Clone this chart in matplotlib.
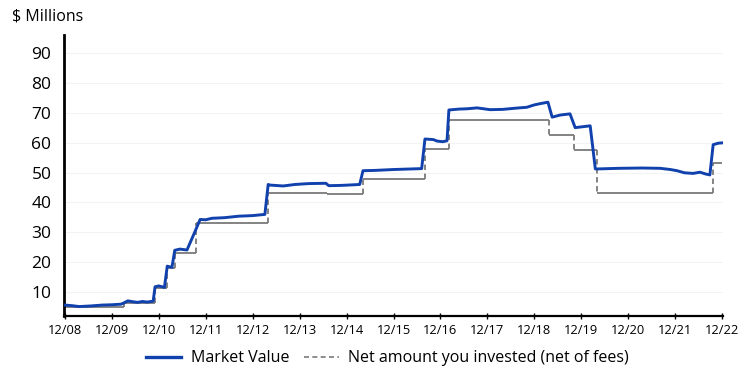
import matplotlib.pyplot as plt
from matplotlib.lines import Line2D

plt.rcParams['font.family'] = ['Open Sans', 'DejaVu Sans']

# years since Dec 2008 / market value ($M)
mv_t = [0.00, 0.15, 0.30, 0.55, 0.80, 1.00, 1.20, 1.28, 1.34, 1.45, 1.55, 1.65, 1.75, 1.88,
        1.92, 2.00, 2.12, 2.18, 2.28, 2.34, 2.45, 2.60, 2.75, 2.88, 3.00, 3.13, 3.40, 3.70,
        4.00, 4.26, 4.33, 4.37, 4.65, 4.90, 5.20, 5.56, 5.62, 5.90, 6.28, 6.35, 6.60, 7.00,
        7.60, 7.67, 7.85, 7.93, 8.05, 8.14, 8.18, 8.40, 8.57, 8.78, 9.06, 9.33, 9.60, 9.84,
        10.00, 10.12, 10.29, 10.38, 10.55, 10.76, 10.87, 11.19, 11.30, 11.36, 11.80, 12.30,
        12.68, 12.90, 13.04, 13.20, 13.38, 13.53, 13.65, 13.74, 13.81, 13.92, 14.00]
mv_v = [5.7, 5.5, 5.2, 5.4, 5.7, 5.8, 6.0, 6.6, 7.1, 6.8, 6.6, 6.9, 6.7, 7.0,
        11.8, 12.1, 11.6, 18.7, 18.3, 24.0, 24.4, 24.1, 29.5, 34.3, 34.2, 34.7, 34.9, 35.4,
        35.6, 36.0, 46.0, 45.8, 45.5, 46.0, 46.3, 46.4, 45.6, 45.7, 46.0, 50.6, 50.7, 51.0,
        51.3, 61.2, 61.0, 60.5, 60.3, 60.6, 70.9, 71.2, 71.3, 71.6, 71.0, 71.1, 71.5, 71.8,
        72.6, 73.0, 73.5, 68.5, 69.2, 69.6, 65.0, 65.6, 51.2, 51.2, 51.4, 51.5,
        51.4, 51.0, 50.6, 49.9, 49.7, 50.1, 49.5, 49.2, 59.3, 59.8, 59.9]

# net invested, step changes
inv_t = [0.00, 1.25, 1.92, 2.18, 2.34, 2.80, 4.33, 5.58, 6.35, 7.67, 8.18, 10.31, 10.85,
         11.34, 13.81, 14.00]
inv_v = [5.2, 6.4, 11.3, 18.0, 23.2, 33.2, 43.2, 42.7, 47.7, 57.7, 67.6, 62.5, 57.5,
         43.2, 53.3, 53.3]

xlabels = ['12/%02d' % y for y in range(8, 23)]
yticks = [10, 20, 30, 40, 50, 60, 70, 80, 90]

blue = '#1041ad'
grey = '#7a7a7a'

fig = plt.figure(figsize=(7.38, 3.75), dpi=100)
ax = fig.add_axes([0.0867, 0.157, 0.893, 0.75])

for y in yticks:
    ax.axhline(y, color='#f3f3f3', lw=0.8, zorder=0)

# invested: solid flats, dashed risers
ax.hlines(inv_v[:-1], inv_t[:-1], inv_t[1:], color=grey, lw=1.3, zorder=2)
ax.vlines(inv_t[1:-1], inv_v[:-2], inv_v[1:-1], color=grey, lw=1.3,
          linestyles=(0, (3, 2)), zorder=2)

ax.plot(mv_t, mv_v, color=blue, lw=2.1, zorder=3)

ax.set_xlim(-0.02, 14.02)
ax.set_ylim(2, 96)
ax.set_xticks(range(15))
ax.set_xticklabels(xlabels, fontsize=9.3)
ax.set_yticks(yticks)
ax.tick_params(axis='y', length=0, labelsize=12.5, pad=9)
ax.tick_params(axis='x', length=4, width=1, direction='inout', pad=4)
for s in ['top', 'right']:
    ax.spines[s].set_visible(False)
ax.spines['left'].set_linewidth(2)
ax.spines['bottom'].set_linewidth(1.6)

fig.text(0.016, 0.955, '$ Millions', fontsize=11.5, va='center')

handles = [Line2D([], [], color=blue, lw=2.4),
           Line2D([], [], color=grey, lw=1.2, ls=(0, (3, 2)))]
fig.legend(handles, ['Market Value', 'Net amount you invested (net of fees)'],
           loc='lower center', bbox_to_anchor=(0.525, -0.015), ncol=2, frameon=False,
           fontsize=11.5, handlelength=2.2, columnspacing=0.9, handletextpad=0.6)

fig.savefig('out.png', dpi=100)
